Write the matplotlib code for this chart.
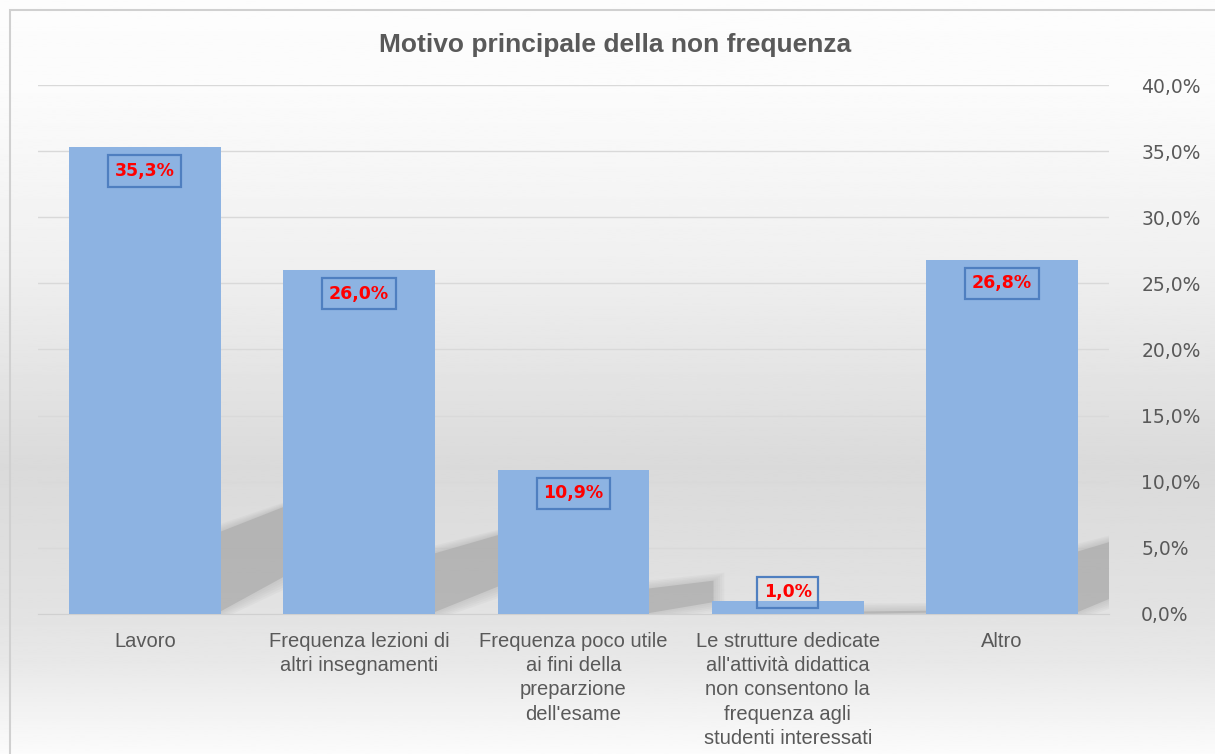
import numpy as np
import matplotlib.pyplot as plt
from matplotlib.patches import Polygon, Rectangle
from matplotlib.ticker import FuncFormatter

# chart data
categories = [
    "Lavoro",
    "Frequenza lezioni di\naltri insegnamenti",
    "Frequenza poco utile\nai fini della\npreparzione\ndell'esame",
    "Le strutture dedicate\nall'attività didattica\nnon consentono la\nfrequenza agli\nstudenti interessati",
    "Altro",
]
values = [35.3, 26.0, 10.9, 1.0, 26.8]
title = "Motivo principale della non frequenza"

bar_color = "#8DB3E2"
text_gray = "#595959"
label_font = ["Liberation Sans", "DejaVu Sans"]

fig = plt.figure(figsize=(12.15, 7.54), dpi=100)

# background gradient (white -> light gray -> white)
bg = fig.add_axes([0, 0, 1, 1], zorder=-2)
ys = np.linspace(0, 1, 400)
shade = np.interp(ys, [0.0, 0.12, 0.35, 0.62, 0.80, 0.88, 1.0],
                  [0.99, 0.985, 0.94, 0.855, 0.885, 0.91, 0.985])
bg.imshow(shade[:, None], aspect="auto", cmap="gray", vmin=0, vmax=1,
          extent=[0, 1, 0, 1], origin="upper")
bg.axis("off")
fig.patches.append(Rectangle((0.008, -0.01), 1.1, 0.997, transform=fig.transFigure,
                             fill=False, edgecolor="#d0d0d0", lw=1.5))

ax = fig.add_axes([0.031, 0.186, 0.882, 0.701])
ax.set_facecolor("none")
ax.set_axisbelow(True)
x = np.arange(len(values))
width = 0.707

# soft perspective shadows behind the bars (layered for a blurred edge)
d = 0.30
for xi, v in zip(x, values):
    h = 0.23 * v
    xr = xi + width / 2
    for k in range(5, -1, -1):
        g = 0.12 * k
        alpha = 0.55 if k == 0 else 0.09
        pts = [(xr - 0.02, -g), (xr - 0.02, 0.75 * h + g),
               (xr + d + 0.01 * k, h + g), (xr + d + 0.01 * k, 0.35 * h - g)]
        ax.add_patch(Polygon(pts, closed=True, facecolor="#a6a6a6",
                             edgecolor="none", alpha=alpha, zorder=1))

ax.bar(x, values, width=width, color=bar_color, zorder=3)

for xi, v in zip(x, values):
    dy = -17 if v > 3 else 6
    ax.annotate(f"{v:.1f}%".replace(".", ","), (xi, v), xytext=(0, dy),
                textcoords="offset points", ha="center", va="center",
                color="#FF0000", fontweight="bold", fontsize=12.5, family="DejaVu Sans",
                bbox=dict(boxstyle="square,pad=0.38", facecolor="none",
                          edgecolor="#4F7FC0", lw=1.6), zorder=5)

ax.set_xlim(-0.5, len(values) - 0.5)
ax.set_ylim(0, 40)
ax.set_yticks(np.arange(0, 41, 5))
ax.yaxis.set_major_formatter(FuncFormatter(lambda v, p: f"{v:.1f}%".replace(".", ",")))
ax.yaxis.tick_right()
ax.tick_params(axis="y", length=0, pad=23, labelsize=13.5, labelcolor=text_gray)
ax.tick_params(axis="x", length=0, pad=13)
ax.set_xticks(x)
ax.set_xticklabels(categories, fontsize=14.5, color=text_gray, family=label_font,
                   linespacing=1.35, va="top")
for lab in ax.get_yticklabels():
    lab.set_family("DejaVu Sans")

ax.grid(axis="y", color="#d9d9d9", lw=1)
for s in ["top", "right", "left"]:
    ax.spines[s].set_visible(False)
ax.spines["bottom"].set_color("#d0d0d0")

fig.text(0.506, 0.94, title, ha="center", va="center", fontsize=19,
         fontweight="bold", color=text_gray, family=label_font)

fig.savefig("out.png", dpi=100)
